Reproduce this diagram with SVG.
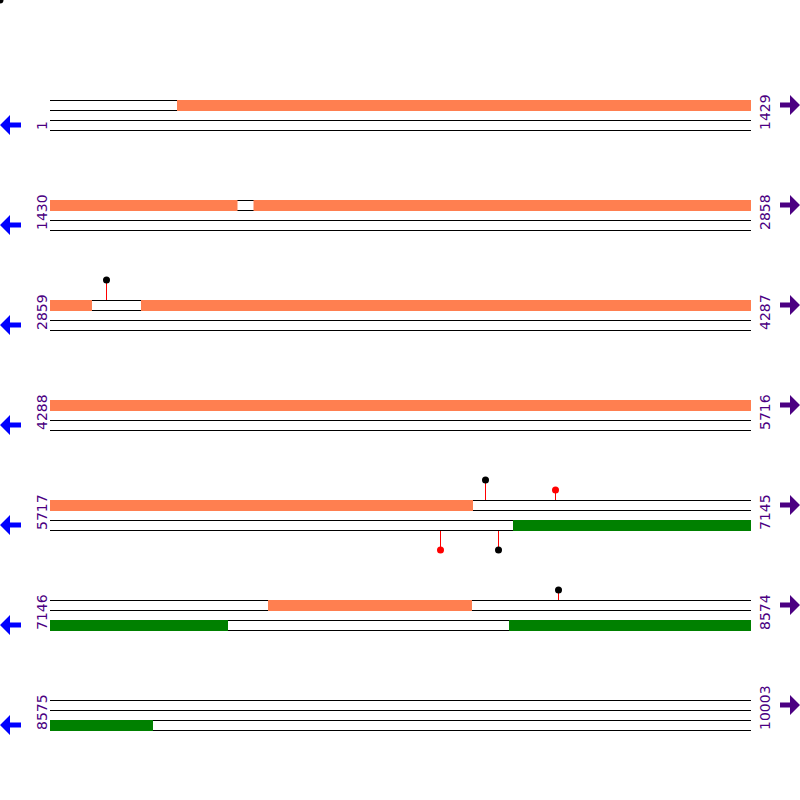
<svg xmlns="http://www.w3.org/2000/svg" width="800" height="800" viewBox="0 0 800 800">
<style>
.ln{stroke:#000;stroke-width:1;fill:none}
.or{fill:#ff7f50}
.gr{fill:#008000}
.lbl{font-family:"DejaVu Sans",sans-serif;font-size:14px;fill:#4b0082}
.stk{stroke:#ff0000;stroke-width:1}
.la{fill:#0000ff}
.ra{fill:#4b0082}
</style>
<defs>
<g id="tracks">
<line class="ln" x1="50" y1="100.5" x2="751" y2="100.5"/>
<line class="ln" x1="50" y1="110.5" x2="751" y2="110.5"/>
<line class="ln" x1="50" y1="120.5" x2="751" y2="120.5"/>
<line class="ln" x1="50" y1="130.5" x2="751" y2="130.5"/>
</g>
<polygon id="larr" points="0,125 10,115 10,122.5 21,122.5 21,127.5 10,127.5 10,135"/>
<polygon id="rarr" points="800,105 790,95 790,102.5 780,102.5 780,107.5 790,107.5 790,115"/>
</defs>
<circle cx="0" cy="0" r="3.5" fill="#000"/>
<g id="row1">
<use href="#tracks"/>
<rect class="or" x="177" y="100" width="574" height="11"/>
<text class="lbl" transform="translate(47,130) rotate(-90)">1</text>
<text class="lbl" transform="translate(770,130) rotate(-90)">1429</text>
<use href="#larr" class="la"/>
<use href="#rarr" class="ra"/>
</g>
<g id="row2" transform="translate(0,100)">
<use href="#tracks"/>
<rect class="or" x="50" y="100" width="187.5" height="11"/>
<rect class="or" x="253.5" y="100" width="497.5" height="11"/>
<text class="lbl" transform="translate(47,130) rotate(-90)">1430</text>
<text class="lbl" transform="translate(770,130) rotate(-90)">2858</text>
<use href="#larr" class="la"/>
<use href="#rarr" class="ra"/>
</g>
<g id="row3" transform="translate(0,200)">
<use href="#tracks"/>
<rect class="or" x="50" y="100" width="42" height="11"/>
<rect class="or" x="141" y="100" width="610" height="11"/>
<line class="stk" x1="106.5" y1="80" x2="106.5" y2="100"/>
<circle cx="106.5" cy="80" r="3.5" fill="#000"/>
<text class="lbl" transform="translate(47,130) rotate(-90)">2859</text>
<text class="lbl" transform="translate(770,130) rotate(-90)">4287</text>
<use href="#larr" class="la"/>
<use href="#rarr" class="ra"/>
</g>
<g id="row4" transform="translate(0,300)">
<use href="#tracks"/>
<rect class="or" x="50" y="100" width="701" height="11"/>
<text class="lbl" transform="translate(47,130) rotate(-90)">4288</text>
<text class="lbl" transform="translate(770,130) rotate(-90)">5716</text>
<use href="#larr" class="la"/>
<use href="#rarr" class="ra"/>
</g>
<g id="row5" transform="translate(0,400)">
<use href="#tracks"/>
<rect class="or" x="50" y="100" width="423" height="11"/>
<rect class="gr" x="513" y="120" width="238" height="11"/>
<line class="stk" x1="485.5" y1="80" x2="485.5" y2="100"/>
<circle cx="485.5" cy="80" r="3.5" fill="#000"/>
<line class="stk" x1="555.5" y1="90" x2="555.5" y2="100"/>
<circle cx="555.5" cy="90" r="3.5" fill="#ff0000"/>
<line class="stk" x1="440.5" y1="131" x2="440.5" y2="150"/>
<circle cx="440.5" cy="150" r="3.5" fill="#ff0000"/>
<line class="stk" x1="498.5" y1="131" x2="498.5" y2="150"/>
<circle cx="498.5" cy="150" r="3.5" fill="#000"/>
<text class="lbl" transform="translate(47,130) rotate(-90)">5717</text>
<text class="lbl" transform="translate(770,130) rotate(-90)">7145</text>
<use href="#larr" class="la"/>
<use href="#rarr" class="ra"/>
</g>
<g id="row6" transform="translate(0,500)">
<use href="#tracks"/>
<rect class="or" x="268" y="100" width="204" height="11"/>
<rect class="gr" x="50" y="120" width="178" height="11"/>
<rect class="gr" x="509" y="120" width="242" height="11"/>
<line class="stk" x1="558.5" y1="90" x2="558.5" y2="100"/>
<circle cx="558.5" cy="90" r="3.5" fill="#000"/>
<text class="lbl" transform="translate(47,130) rotate(-90)">7146</text>
<text class="lbl" transform="translate(770,130) rotate(-90)">8574</text>
<use href="#larr" class="la"/>
<use href="#rarr" class="ra"/>
</g>
<g id="row7" transform="translate(0,600)">
<use href="#tracks"/>
<rect class="gr" x="50" y="120" width="103" height="11"/>
<text class="lbl" transform="translate(47,130) rotate(-90)">8575</text>
<text class="lbl" transform="translate(770,130) rotate(-90)">10003</text>
<use href="#larr" class="la"/>
<use href="#rarr" class="ra"/>
</g>
</svg>
